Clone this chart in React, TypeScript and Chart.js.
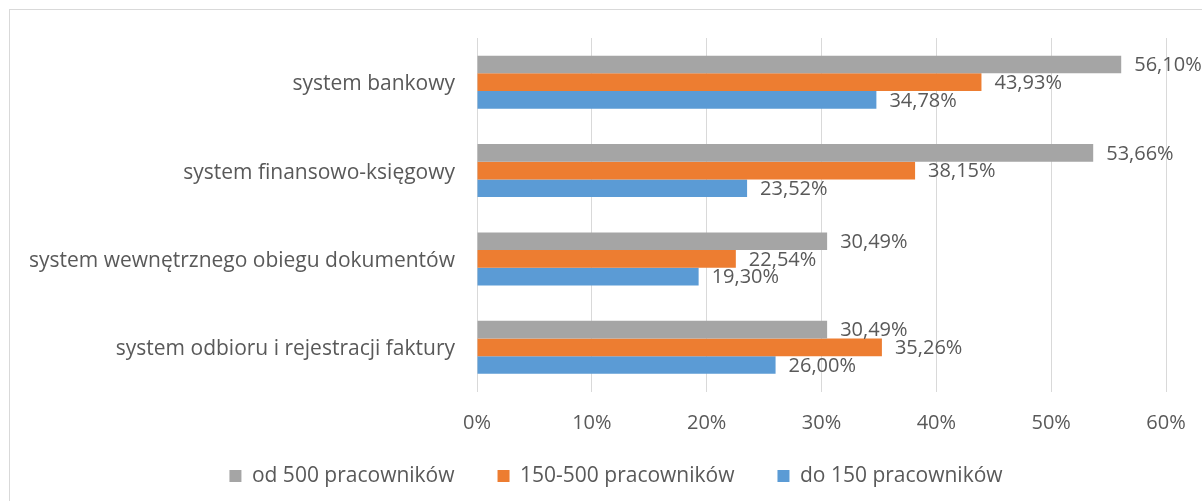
import React, { useEffect, useRef } from "react";
import { Chart, registerables } from "chart.js";

Chart.register(...registerables);

const categories = [
  "system bankowy",
  "system finansowo-księgowy",
  "system wewnętrznego obiegu dokumentów",
  "system odbioru i rejestracji faktury",
];
const seriesNames = ["od 500 pracowników", "150-500 pracowników", "do 150 pracowników"];
const over500 = [56.1, 53.66, 30.49, 30.49];
const from150to500 = [43.93, 38.15, 22.54, 35.26];
const under150 = [34.78, 23.52, 19.3, 26.0];
const axisMin = 0;
const axisMax = 60;
const axisStep = 10;

const seriesColors = ["#A5A5A5", "#ED7D31", "#5B9BD5"];
const textColor = "#595959";
const fontFamily = '"Open Sans", sans-serif';

const valueLabels = {
  id: "valueLabels",
  afterDatasetsDraw(chart: any) {
    const ctx = chart.ctx;
    ctx.save();
    ctx.font = `20px ${fontFamily}`;
    ctx.fillStyle = textColor;
    ctx.textAlign = "left";
    ctx.textBaseline = "middle";
    chart.data.datasets.forEach((ds: any, di: number) => {
      const meta = chart.getDatasetMeta(di);
      meta.data.forEach((el: any, i: number) => {
        const v = ds.data[i] as number;
        ctx.fillText(v.toFixed(2).replace(".", ",") + "%", el.x + 13, el.y + 1);
      });
    });
    ctx.restore();
  },
};

// Fine placement tweaks: give the x-axis labels room below the plot and
// move the legend block to the reference's horizontal position.
const placement = {
  id: "placement",
  afterLayout(chart: any) {
    const xs = chart.scales.x;
    if (xs) xs.bottom = xs.top + 60;
    const lg = chart.legend;
    if (lg) {
      lg.left += 33;
      lg.right += 33;
    }
  },
};

export default function App() {
  const ref = useRef<HTMLCanvasElement | null>(null);

  useEffect(() => {
    let chart: Chart | null = null;
    let cancelled = false;
    const build = () => {
      if (cancelled || !ref.current) return;
      chart = new Chart(ref.current, {
        type: "bar",
        data: {
          labels: categories,
          datasets: [
            { label: seriesNames[0], data: over500, backgroundColor: seriesColors[0], borderWidth: 0 },
            { label: seriesNames[1], data: from150to500, backgroundColor: seriesColors[1], borderWidth: 0 },
            { label: seriesNames[2], data: under150, backgroundColor: seriesColors[2], borderWidth: 0 },
          ],
        },
        options: {
          indexAxis: "y",
          responsive: false,
          animation: false,
          datasets: { bar: { categoryPercentage: 0.6, barPercentage: 1.0 } },
          layout: { padding: { top: 38, right: 36, bottom: 4.5, left: 0 } },
          scales: {
            x: {
              min: axisMin,
              max: axisMax,
              ticks: {
                stepSize: axisStep,
                callback: (v: any) => `${v}%`,
                color: textColor,
                font: { family: fontFamily, size: 20 },
                padding: 20,
                maxRotation: 0,
              },
              grid: { color: "#D9D9D9", lineWidth: 1, drawTicks: false },
              border: { display: false },
              afterFit: (s: any) => {
                s.height = 31;
                s.paddingLeft = 0;
                s.paddingRight = 0;
              },
            },
            y: {
              ticks: {
                color: textColor,
                font: { family: fontFamily, size: 21 },
                padding: 22,
                labelOffset: 2,
              },
              grid: { display: false, drawTicks: false },
              border: { display: false },
              afterFit: (s: any) => {
                s.width = 477;
              },
            },
          },
          plugins: {
            legend: {
              position: "bottom",
              labels: {
                boxWidth: 12,
                boxHeight: 12,
                padding: 43,
                color: textColor,
                font: { family: fontFamily, size: 21 },
              },
            },
            tooltip: { enabled: false },
          },
        },
        plugins: [valueLabels, placement],
      });
    };
    if ((document as any).fonts && (document as any).fonts.load) {
      (document as any).fonts.load(`20px "Open Sans"`).then(build, build);
    } else {
      build();
    }
    return () => {
      cancelled = true;
      if (chart) chart.destroy();
    };
  }, []);

  return (
    <div style={{ position: "absolute", left: 0, top: 0, width: 1202, height: 501, background: "#ffffff", overflow: "hidden" }}>
      <div
        style={{
          position: "absolute",
          left: 9,
          top: 9,
          width: 1193,
          height: 492,
          boxSizing: "border-box",
          borderTop: "1px solid #D9D9D9",
          borderLeft: "1px solid #D9D9D9",
        }}
      />
      <canvas ref={ref} width={1202} height={501} style={{ position: "absolute", left: 0, top: 0, width: 1202, height: 501 }} />
    </div>
  );
}
